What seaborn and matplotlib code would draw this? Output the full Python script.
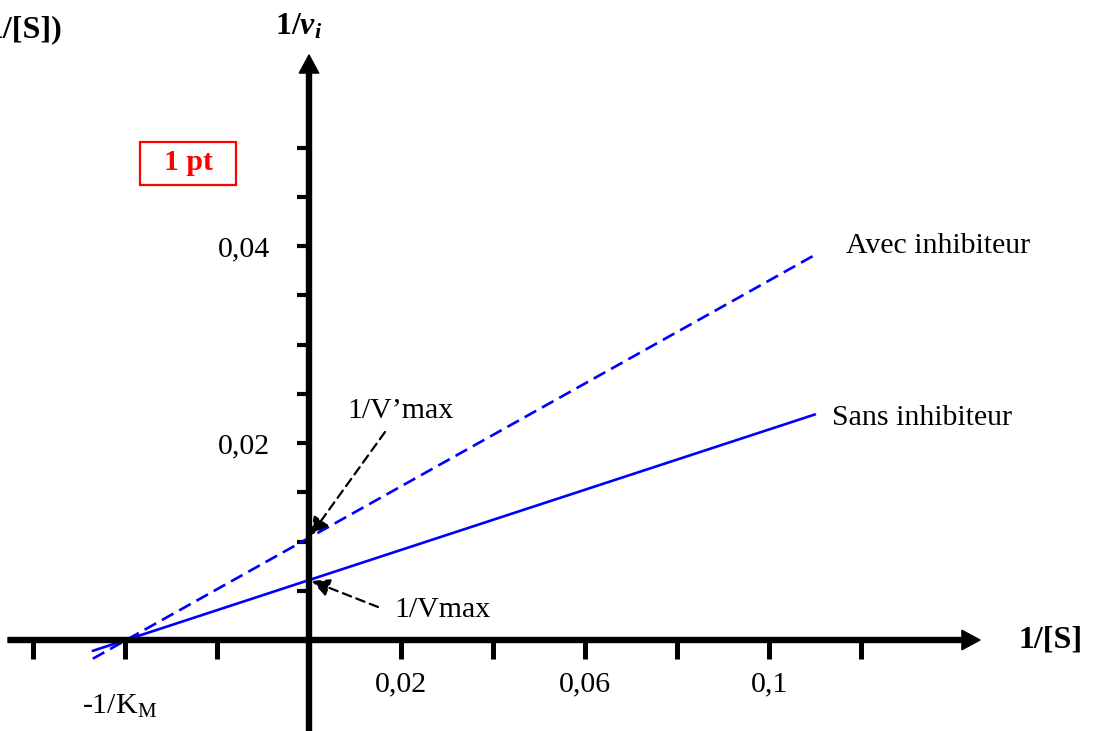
import matplotlib
matplotlib.use("Agg")
import matplotlib.pyplot as plt
import seaborn as sns
import pandas as pd
from matplotlib.patches import Rectangle

# values (Lineweaver-Burk plot)
x_ends = [-0.047, 0.11]
sans_inhib = [-0.0011, 0.0229]
avec_inhib = [-0.0019, 0.0391]
inv_vmax = 0.0061        # y-intercept, sans inhibiteur
inv_vmax_prime = 0.0104  # y-intercept, avec inhibiteur
neg_inv_km = -0.04       # common x-intercept

x_ticks = [-0.06, -0.04, -0.02, 0.02, 0.04, 0.06, 0.08, 0.10, 0.12]
x_tick_labels = ["", "", "", "0,02", "", "0,06", "", "0,1", ""]
y_ticks = [0.005, 0.010, 0.015, 0.020, 0.025, 0.030, 0.035, 0.040, 0.045, 0.050]
y_tick_labels = ["", "", "", "0,02", "", "", "", "0,04", "", ""]

df = pd.DataFrame({
    "x": x_ends * 2,
    "y": sans_inhib + avec_inhib,
    "cond": ["Sans inhibiteur"] * 2 + ["Avec inhibiteur"] * 2,
})

sns.set_theme(style="white")
plt.rcParams["font.family"] = ["Liberation Serif", "DejaVu Serif"]
plt.rcParams["text.color"] = "black"
plt.rcParams["mathtext.fontset"] = "custom"
plt.rcParams["mathtext.rm"] = "Liberation Serif"
plt.rcParams["mathtext.it"] = "Liberation Serif:italic:bold"
plt.rcParams["mathtext.bf"] = "Liberation Serif:bold"

# pixel layout of the reference: origin at (309, 640), 92 px per 0.02 on x, 197 px per 0.02 on y
X0, Y0, SX, SY = 309, 640, 4600.0, 9850.0
W, H = 1099, 731


def px(x, y):
    return ((x - X0) / SX, (Y0 - y) / SY)


fig = plt.figure(figsize=(W / 100, H / 100), dpi=100)
ax = fig.add_axes([0, 0, 1, 1])
ax.set_xlim(px(0, 0)[0], px(W, 0)[0])
ax.set_ylim(px(0, H)[1], px(0, 0)[1])

sns.lineplot(data=df, x="x", y="y", style="cond",
             dashes={"Sans inhibiteur": "", "Avec inhibiteur": (5, 2.5)},
             color="#0000ff", linewidth=1.9, legend=False, ax=ax)

# axes through the origin
for s in ["top", "right", "left", "bottom"]:
    ax.spines[s].set_visible(False)
ax.spines["left"].set_position("zero")
ax.spines["bottom"].set_position("zero")

fs = 21.5
ax.set_xticks(x_ticks, labels=x_tick_labels)
ax.set_yticks(y_ticks, labels=y_tick_labels)
ax.tick_params(axis="x", bottom=True, direction="out", length=13.5, width=3.6, color="black",
               labelsize=fs, pad=9, labelcolor="black")
ax.tick_params(axis="y", left=True, direction="out", length=9, width=3, color="black",
               labelsize=fs, pad=19, labelcolor="black")
ax.set_xlabel("")
ax.set_ylabel("")

axis_arrow = dict(width=3.6, headwidth=14, headlength=13, shrink=0, color="black")
ax.annotate("", xy=px(980, 640), xytext=px(8, 640), arrowprops=axis_arrow)
ax.annotate("", xy=px(309, 55), xytext=px(309, 735), arrowprops=axis_arrow)

# labels
fb = 23
ax.text(*px(1018, 640), "1/[S]", fontsize=fb, fontweight="bold", ha="left", va="center")
ax.text(*px(299, 27), r"1/$v_i$", fontsize=fb, fontweight="bold", ha="center", va="center")
ax.text(*px(62, 30), "1/[S])", fontsize=fb, fontweight="bold", ha="right", va="center")
ax.text(*px(846, 246), "Avec inhibiteur", fontsize=fs, ha="left", va="center")
ax.text(*px(832, 418), "Sans inhibiteur", fontsize=fs, ha="left", va="center")
ax.text(*px(82, 706), r"-1/K$_{\mathregular{M}}$", fontsize=fs, ha="left", va="center")

# "1 pt" box
bx0, by0 = px(140, 185)
bx1, by1 = px(236, 142)
ax.add_patch(Rectangle((bx0, by0), bx1 - bx0, by1 - by0, fill=False,
                       edgecolor="red", linewidth=1.6))
ax.text(*px(188, 163), "1 pt", fontsize=fs, fontweight="bold", color="red",
        ha="center", va="center")

# intercept annotations
dash_arrow = dict(arrowstyle="-|>,head_length=0.9,head_width=0.45", color="black",
                  linestyle=(0, (4, 2.5)), linewidth=1.6, shrinkA=0, shrinkB=2)
ax.annotate("1/V\u2019max", xy=(0, inv_vmax_prime), xytext=px(347, 411),
            fontsize=fs, ha="left", va="center")
ax.annotate("", xy=(0, inv_vmax_prime), xytext=px(385, 432), arrowprops=dash_arrow)
ax.annotate("1/Vmax", xy=(0, inv_vmax), xytext=px(394, 610),
            fontsize=fs, ha="left", va="center")
ax.annotate("", xy=(0, inv_vmax), xytext=px(378, 607), arrowprops=dash_arrow)

fig.savefig("out.png", dpi=100)
